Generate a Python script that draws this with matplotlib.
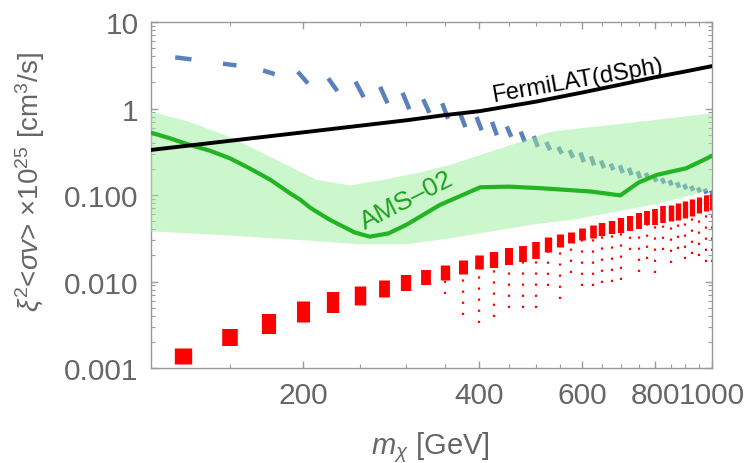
import matplotlib
matplotlib.use('Agg')
import matplotlib.pyplot as plt
from matplotlib.ticker import FixedLocator, FixedFormatter, MultipleLocator, LogLocator, NullFormatter

plt.rcParams['font.family'] = ['Liberation Sans', 'DejaVu Sans']
plt.rcParams['mathtext.fontset'] = 'custom'
plt.rcParams['mathtext.rm'] = 'Liberation Sans'
plt.rcParams['mathtext.it'] = 'Liberation Sans:italic'

# Limite FermiLAT (dSph)
fermi_m = [110, 200, 300, 350, 400, 500, 600, 700, 800, 900, 1000]
fermi_v = [0.332, 0.53, 0.73, 0.84, 0.93, 1.2, 1.53, 1.9, 2.3, 2.68, 3.09]

# Curva AMS-02 y su banda
ams_m = [110, 118.5, 128, 138.6, 150, 162, 176, 190, 198, 206, 222, 245, 260, 280, 300, 343, 402, 450,
         508, 619, 697, 750, 805, 904, 1000]
ams_v = [0.526, 0.453, 0.38, 0.326, 0.266, 0.204, 0.15, 0.105, 0.088, 0.071, 0.052, 0.037, 0.033, 0.036,
         0.045, 0.077, 0.123, 0.125, 0.12, 0.11, 0.099, 0.14, 0.171, 0.204, 0.283]
banda_sup_m = [110, 128, 150, 180, 211, 241, 274, 313, 357, 445, 530, 755, 1000]
banda_sup_v = [0.918, 0.70, 0.47, 0.255, 0.15, 0.129, 0.15, 0.179, 0.223, 0.363, 0.54, 0.705, 0.88]
banda_inf_m = [110, 150, 200, 250, 300, 350, 400, 500, 580, 800, 1000]
banda_inf_v = [0.038, 0.034, 0.030, 0.027, 0.027, 0.031, 0.036, 0.046, 0.052, 0.078, 0.115]

# Puntos del escaneo (por masa: extremo superior e inferior)
masas = [125, 150, 175, 200, 225, 250, 275, 300, 325, 350, 375, 400, 425, 450, 475, 500, 525, 550,
         575, 600, 625, 650, 675, 700, 725, 750, 775, 800, 825, 850, 875, 900, 925, 950, 975, 1000]
azul_sup = [3.9, 3.3, 2.75, 2.66, 2.23, 2.04, 1.78, 1.52, 1.28, 1.15, 0.89, 0.80, 0.70, 0.62, 0.54, 0.48,
            0.41, 0.36, 0.33, 0.31, 0.28, 0.25, 0.23, 0.22, 0.205, 0.187, 0.18, 0.164, 0.156, 0.148,
            0.14, 0.133, 0.127, 0.122, 0.118, 0.113]
azul_inf = [3.7, 3.15, 2.5, 1.95, 1.59, 1.35, 1.15, 0.98, 0.89, 0.76, 0.61, 0.56, 0.49, 0.47, 0.41, 0.36,
            0.33, 0.30, 0.27, 0.24, 0.22, 0.205, 0.195, 0.18, 0.17, 0.156, 0.15, 0.143, 0.136, 0.129,
            0.122, 0.117, 0.112, 0.108, 0.104, 0.10]
rojo_sup = [0.0017, 0.0028, 0.0042, 0.0059, 0.0075, 0.0088, 0.0103, 0.012, 0.0135, 0.0157, 0.0179, 0.020,
            0.022, 0.0244, 0.0259, 0.0287, 0.0323, 0.0358, 0.0376, 0.042, 0.0455, 0.0475, 0.050, 0.054,
            0.0575, 0.062, 0.066, 0.0687, 0.0738, 0.077, 0.081, 0.0864, 0.090, 0.095, 0.10, 0.104]
rojo_inf = [0.0011, 0.0018, 0.0025, 0.0034, 0.0043, 0.0053, 0.0066, 0.0077, 0.0092, 0.0105, 0.0121, 0.0138,
            0.0144, 0.0157, 0.017, 0.018, 0.0217, 0.0248, 0.028, 0.0305, 0.0319, 0.0332, 0.035, 0.0364,
            0.038, 0.040, 0.045, 0.0454, 0.0475, 0.050, 0.052, 0.054, 0.057, 0.062, 0.066, 0.068]
# puntos sueltos por debajo de cada grupo rojo
rojo_cola = [0.0011, 0.0018, 0.0025, 0.0034, 0.0043, 0.0053, 0.0066, 0.0077, 0.0092, 0.0071, 0.0041, 0.0033,
             0.0039, 0.005, 0.005, 0.005, 0.0088, 0.0062, 0.0126, 0.0088, 0.0088, 0.0097, 0.010, 0.0105,
             0.0234, 0.013, 0.018, 0.0126, 0.0234, 0.0164, 0.024, 0.018, 0.021, 0.0195, 0.017, 0.017]

gris = '#666666'
fig = plt.figure(figsize=(7.5, 4.64), dpi=100)
ax = fig.add_axes([0.2013, 0.2047, 0.748, 0.7457])
ax.set_xscale('log')
ax.set_yscale('log')
ax.set_xlim(110, 1000)
ax.set_ylim(0.001, 10)

# grupos azules: trazos inclinados
for m, s, i in zip(masas, azul_sup, azul_inf):
    ax.plot([m - 4, m + 4], [s, i], color='#5b80be', lw=3.2, solid_capstyle='butt', zorder=2)

# grupos rojos: el ancho baja con la masa, como en la figura original
anchos = [12.5 * (125 / m) ** 0.6 for m in masas]
ax.vlines(masas, rojo_inf, rojo_sup, colors='red', linewidths=anchos, zorder=2)
for m, i, c in zip(masas, rojo_inf, rojo_cola):
    if c < i:
        ax.vlines(m, c, i, colors='red', linestyles=(0, (1, 4)), lw=1.6, zorder=2)

ax.fill(banda_sup_m + banda_inf_m[::-1], banda_sup_v + banda_inf_v[::-1],
        color='#9af09a', alpha=0.5, lw=0, zorder=3)
ax.plot(ams_m, ams_v, color='#22b422', lw=3, zorder=4, solid_joinstyle='round')
ax.plot(fermi_m, fermi_v, color='black', lw=2.8, zorder=4)

ax.text(590, 2.15, 'FermiLAT(dSph)', fontsize=17, rotation=10, ha='center', va='center', color='black')
ax.text(301, 0.088, 'AMS\u201302', fontsize=19, rotation=27, ha='center', va='center', color='#1fa01f')

ax.xaxis.set_major_locator(FixedLocator([200, 400, 600, 800, 1000]))
ax.xaxis.set_major_formatter(FixedFormatter(['200', '400', '600', '800', '1000']))
ax.xaxis.set_minor_locator(MultipleLocator(50))
ax.xaxis.set_minor_formatter(NullFormatter())
ax.yaxis.set_major_locator(FixedLocator([0.001, 0.01, 0.1, 1, 10]))
ax.yaxis.set_major_formatter(FixedFormatter(['0.001', '0.010', '0.100', '1', '10']))
ax.yaxis.set_minor_locator(LogLocator(base=10, subs=range(2, 10)))
ax.yaxis.set_minor_formatter(NullFormatter())

for sp in ax.spines.values():
    sp.set_color('#999999')
    sp.set_linewidth(1)
ax.tick_params(which='both', direction='in', top=True, right=True, color='#999999',
               labelcolor=gris, labelsize=21.5, pad=9)
ax.tick_params(which='major', length=5, width=1)
ax.tick_params(which='minor', length=3, width=0.8)

fig.text(430 / 750, 1 - 448 / 464, r'$m_\chi$ [GeV]', fontsize=21, color=gris, ha='center', va='center')
fig.text(30 / 750, 1 - 182 / 464, r'$\xi^2$<$\sigma v$> $\times$10$^{25}$ [cm$^3$/s]', fontsize=20,
         color=gris, rotation=90, ha='center', va='center')

fig.savefig('out.png', dpi=100)
